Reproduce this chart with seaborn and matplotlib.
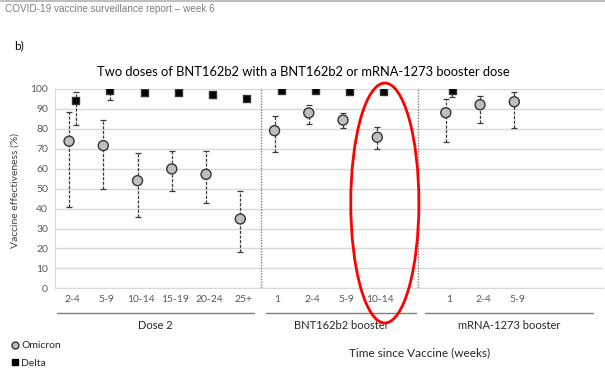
import seaborn as sns
import pandas as pd
import matplotlib.pyplot as plt
from matplotlib.patches import Ellipse
from matplotlib.lines import Line2D

#### DATA

# slot positions of each category on the x axis (empty slots act as gaps)
slots = [0, 1, 2, 3, 4, 5, 6, 7, 8, 9, 11, 12, 13]
tick_labels = ['2-4', '5-9', '10-14', '15-19', '20-24', '25+',
               '1', '2-4', '5-9', '10-14',
               '1', '2-4', '5-9']

omicron_ve = [73.8, 71.6, 54.0, 59.9, 57.2, 34.8, 79.1, 88.0, 84.4, 75.8, 88.1, 92.1, 93.6]
omicron_lo = [40.8, 49.7, 35.6, 48.7, 42.8, 18.1, 68.5, 82.6, 80.3, 69.7, 73.4, 83.1, 80.3]
omicron_hi = [88.6, 84.6, 67.7, 69.0, 68.7, 48.7, 86.5, 92.0, 88.1, 80.9, 95.0, 96.5, 98.3]

delta_slots = [0, 1, 2, 3, 4, 5, 6, 7, 8, 9, 11]
delta_ve = [94.1, 99.1, 98.3, 98.3, 97.3, 95.3, 99.1, 99.5, 99.0, 98.6, 99.5]
delta_lo = [81.8, 94.6, 96.5, 97.6, 95.7, 94.6, 98.6, 99.1, 98.5, 98.1, 96.1]
delta_hi = [98.3, 99.6, 98.8, 98.7, 98.0, 95.8, 99.4, 99.7, 99.3, 98.9, 99.8]

groups = ['Dose 2', 'BNT162b2 booster', 'mRNA-1273 booster']
separators = [5.5, 10.1]

#### BUILD TABLE
om = pd.DataFrame({'x': [s - 0.09 for s in slots], 've': omicron_ve,
                   'lo': omicron_lo, 'hi': omicron_hi, 'variant': 'Omicron'})
de = pd.DataFrame({'x': [s + 0.1 for s in delta_slots], 've': delta_ve,
                   'lo': delta_lo, 'hi': delta_hi, 'variant': 'Delta'})
df = pd.concat([om, de], ignore_index=True)

sns.set_style('white')
plt.rcParams['font.family'] = ['Lato', 'DejaVu Sans']

fig = plt.figure(figsize=(6.05, 3.70), dpi=100)
W, H = 605, 370
ax = fig.add_axes([55 / W, (H - 288.3) / H, 548 / W, 199.3 / H])

# error bars (dashed with small caps)
for variant in ['Omicron', 'Delta']:
    d = df[df['variant'] == variant]
    eb = ax.errorbar(d['x'], d['ve'], yerr=[d['ve'] - d['lo'], d['hi'] - d['ve']],
                     fmt='none', ecolor='#3a3a3a', elinewidth=0.9, capsize=2,
                     capthick=0.9, zorder=2)
    eb[2][0].set_linestyle((0, (2.5, 1.2)))

sns.scatterplot(data=df, x='x', y='ve', hue='variant', style='variant',
                palette={'Omicron': '#bfbfbf', 'Delta': 'black'},
                markers={'Omicron': 'o', 'Delta': 's'},
                s=50, edgecolor='#333333', linewidth=1.0, legend=False,
                ax=ax, zorder=3)
# squares smaller than circles
ax.collections[-1].set_sizes([52 if v == 'Omicron' else 26 for v in df['variant']])

for s in separators:
    ax.axvline(s, color='#7f7f7f', linestyle=(0, (1, 1)), linewidth=1.0, zorder=1)

ax.set_xlim(-0.5, 15.5)
ax.set_ylim(0, 100)
ax.set_yticks(range(0, 101, 10))
ax.grid(axis='y', color='#d9d9d9', linewidth=1.0)
ax.set_xticks(slots)
ax.set_xticklabels(tick_labels)
ax.tick_params(axis='both', length=0, labelsize=7.5, colors='#595959', pad=5)
ax.set_xlabel('')
ax.set_ylabel('')
for sp in ['top', 'right']:
    ax.spines[sp].set_visible(False)
ax.spines['left'].set_color('#d9d9d9')
ax.spines['bottom'].set_color('#d9d9d9')

# group underlines and labels
tr = ax.get_xaxis_transform()
spans = [(-0.44, 5.3), (5.67, 10.05), (10.3, 15.2)]
for (a, b), name in zip(spans, groups):
    ax.add_line(Line2D([a, b], [-0.125, -0.125], color='#7f7f7f', linewidth=1.0,
                       transform=tr, clip_on=False))
    ax.text((a + b) / 2, -0.185, name, transform=tr, ha='center', va='center',
            fontsize=8, color='#262626')

# red ellipse highlight
ax.add_patch(Ellipse((9.13, 42.8), 1.99, 120.4, fill=False, edgecolor='red',
                     linewidth=2.0, clip_on=False, zorder=5))

# titles and texts
fig.text(303 / W, 1 - 72 / H, 'Two doses of BNT162b2 with a BNT162b2 or mRNA-1273 booster dose',
         ha='center', va='center', fontsize=9.3, color='black')
fig.text(15 / W, 1 - 190 / H, 'Vaccine effectiveness (%)', rotation=90,
         ha='center', va='center', fontsize=7.5, color='#404040')
fig.text(420 / W, 1 - 353 / H, 'Time since Vaccine (weeks)', ha='center', va='center',
         fontsize=8.5, color='#262626')
fig.text(14 / W, 1 - 46 / H, 'b)', ha='left', va='center', fontsize=8.5, color='black')
fig.text(5 / W, 1 - 9 / H, 'COVID-19 vaccine surveillance report \u2013 week 6',
         ha='left', va='center', fontsize=7.2, color='#7f7f7f', family=['Liberation Sans'])
fig.add_artist(Line2D([0, 1], [1 - 1 / H, 1 - 1 / H], color='#bfbfbf', linewidth=1.5,
                      transform=fig.transFigure))

# legend
handles = [Line2D([], [], marker='o', linestyle='none', markerfacecolor='#bfbfbf',
                  markeredgecolor='#333333', markersize=5, label='Omicron'),
           Line2D([], [], marker='s', linestyle='none', markerfacecolor='black',
                  markeredgecolor='black', markersize=4.5, label='Delta')]
fig.legend(handles=handles, loc='upper left', bbox_to_anchor=(10 / W, 1 - 341 / H),
           frameon=False, fontsize=7.5, handletextpad=0.1, labelspacing=0.8,
           handlelength=1.0, borderpad=0, borderaxespad=0)

fig.savefig('out.png', dpi=100)
